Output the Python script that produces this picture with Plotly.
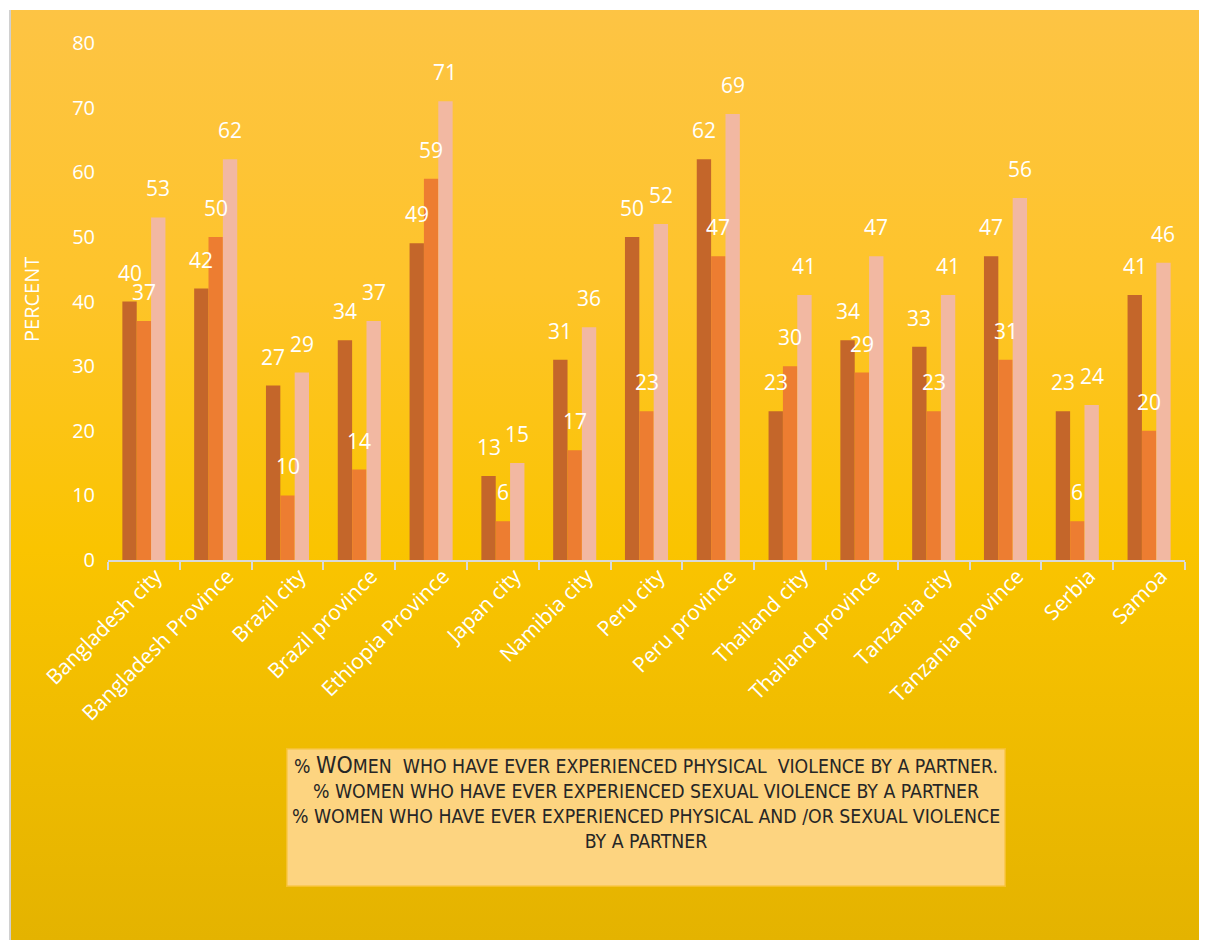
import base64
import plotly.graph_objects as go

categories = ["Bangladesh city", "Bangladesh Province", "Brazil city", "Brazil province",
              "Ethiopia Province", "Japan city", "Namibia city", "Peru city", "Peru province",
              "Thailand city", "Thailand province", "Tanzania city", "Tanzania province",
              "Serbia", "Samoa"]
physical = [40, 42, 27, 34, 49, 13, 31, 50, 62, 23, 34, 33, 47, 23, 41]
sexual = [37, 50, 10, 14, 59, 6, 17, 23, 47, 30, 29, 23, 31, 6, 20]
phys_or_sex = [53, 62, 29, 37, 71, 15, 36, 52, 69, 41, 47, 41, 56, 24, 46]

series_names = ["% Women who have ever experienced physical violence by a partner",
                "% Women who have ever experienced sexual violence by a partner",
                "% Women who have ever experienced physical and /or sexual violence by a partner"]
series_values = [physical, sexual, phys_or_sex]
colors = ["#C4662A", "#ED7D31", "#F2B8A2"]

# page is offset by the 8px body margin
OFF = 8
W, H = 1207 - OFF, 940 - OFF
L, R, T, B = 108 - OFF, 22, 43 - OFF, 380
pw = W - L - R
ph = H - T - B

def px_x(p):
    return (p - OFF - L) / pw

def px_y(p):
    return (H - B - (p - OFF)) / ph

fig = go.Figure()
for name, vals, col in zip(series_names, series_values, colors):
    fig.add_trace(go.Bar(x=categories, y=vals, name=name, marker_color=col,
                         marker_line_width=0, showlegend=False))

# data labels
annotations = []
for k, vals in enumerate(series_values):
    for i, v in enumerate(vals):
        annotations.append(dict(x=i + (k - 1) * 0.2, y=v, xref="x", yref="y",
                                text=str(v), showarrow=False, yshift=29,
                                font=dict(family="Open Sans", size=21, color="white")))

# y-axis title
annotations.append(dict(x=px_x(31), y=px_y(300), xref="paper", yref="paper",
                        xanchor="center", yanchor="middle",
                        text="PERCENT", textangle=-90, showarrow=False,
                        font=dict(family="Open Sans", size=20, color="white")))

# legend-like text box
legend_text = ("% <span style='font-size:23px'>WO</span>MEN  WHO HAVE EVER EXPERIENCED PHYSICAL  VIOLENCE BY A PARTNER.<br>"
               "% WOMEN WHO HAVE EVER EXPERIENCED SEXUAL VIOLENCE BY A PARTNER<br>"
               "% WOMEN WHO HAVE EVER EXPERIENCED PHYSICAL AND /OR SEXUAL VIOLENCE<br>"
               "BY A PARTNER")
annotations.append(dict(x=px_x(646), y=px_y(748), xref="paper", yref="paper",
                        xanchor="center", yanchor="top",
                        text=legend_text, showarrow=False, align="center", valign="top",
                        width=713, height=132, borderpad=2,
                        bgcolor="#FDD480", bordercolor="#F6C12E", borderwidth=1.5,
                        font=dict(family="Liberation Sans Narrow, DejaVu Sans Condensed, Arial Narrow, sans-serif",
                                  size=19.3, color="#262626")))

svg = ('<svg xmlns="http://www.w3.org/2000/svg" width="100" height="100" preserveAspectRatio="none">'
       '<defs><linearGradient id="g" x1="0" y1="0" x2="0" y2="1">'
       '<stop offset="0" stop-color="#FDC444"/>'
       '<stop offset="0.3" stop-color="#FEC42A"/>'
       '<stop offset="0.58" stop-color="#FAC400"/>'
       '<stop offset="1" stop-color="#E4B300"/>'
       '</linearGradient></defs><rect width="100" height="100" fill="url(#g)"/></svg>')
src = "data:image/svg+xml;base64," + base64.b64encode(svg.encode()).decode()

fig.update_layout(
    width=W, height=H,
    margin=dict(l=L, r=R, t=T, b=B),
    paper_bgcolor="white",
    plot_bgcolor="rgba(0,0,0,0)",
    barmode="group", bargap=0.4, bargroupgap=0,
    annotations=annotations,
    images=[dict(source=src, xref="paper", yref="paper",
                 x=px_x(11), y=px_y(10), sizex=px_x(1207) - px_x(11), sizey=px_y(10) - px_y(940),
                 xanchor="left", yanchor="top", sizing="stretch", layer="below")],
    shapes=[dict(type="line", xref="paper", yref="paper",
                 x0=px_x(10), x1=px_x(10), y0=px_y(10), y1=px_y(940),
                 line=dict(color="#D0D0D0", width=2), layer="below")],
    xaxis=dict(type="category", tickson="boundaries", ticks="outside", ticklen=8,
               tickcolor="#D9D9D9", tickwidth=1.5, showline=True, linecolor="#D9D9D9",
               linewidth=1.5, tickangle=-45, showgrid=False,
               ticklabelshift=12, ticklabelstandoff=-6,
               tickfont=dict(family="Open Sans", size=21, color="white")),
    yaxis=dict(range=[0, 80], dtick=10, showgrid=False, zeroline=False, showline=False,
               ticks="", ticklabelstandoff=12,
               tickfont=dict(family="Open Sans", size=20, color="white")),
    font=dict(family="Open Sans"),
)

fig.write_html("out.html")
